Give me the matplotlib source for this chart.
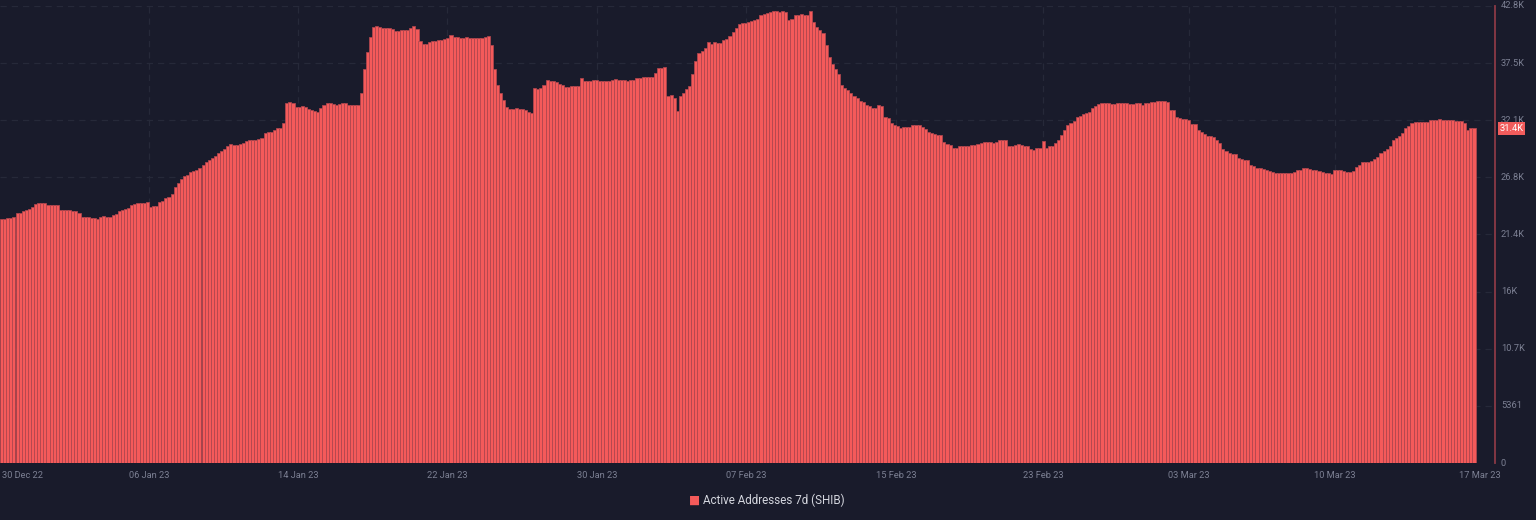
import numpy as np
import matplotlib
matplotlib.use('Agg')
import matplotlib.pyplot as plt

''' data: Active Addresses 7d (SHIB), 4h bars, values in thousands ========== '''
seg1 = [22.9, 22.9, 23.0, 23.0, 23.1, 23.5, 23.5, 23.6, 23.7, 23.8,
        24.0, 24.3, 24.4, 24.4, 24.4, 24.2, 24.2, 24.2, 24.2,
        23.7, 23.7, 23.7, 23.7, 23.6, 23.6, 23.5,
        23.1, 23.1, 23.1, 23.0, 23.0, 22.9, 23.1, 23.2, 23.1, 23.1,
        23.3, 23.4, 23.6, 23.7, 23.8, 23.9, 24.2, 24.3, 24.4, 24.4,
        24.4, 24.5, 24.0, 24.1, 24.1, 24.5, 24.6, 24.9, 25.0, 25.2,
        25.9, 26.3, 26.6, 26.9, 27.0, 27.3, 27.4, 27.5, 27.7,
        28.0, 28.2, 28.4, 28.6, 28.8, 29.1, 29.3, 29.5, 29.7,
        29.9, 29.8, 29.8, 29.9, 30.0, 30.2, 30.3, 30.3, 30.3, 30.4, 30.5,
        31.0, 31.1, 31.1, 31.2, 31.4, 31.4, 31.9, 33.8, 33.9, 33.8,
        33.4, 33.4, 33.5, 33.4, 33.2, 33.1, 33.0, 32.9,
        33.3, 33.6, 33.8, 33.8, 33.7,
        33.6, 33.7, 33.8, 33.8, 33.6, 33.6, 33.6, 33.6, 34.7, 37.0, 38.6]
seg2 = [40.0, 40.9, 41.0, 40.9, 40.8, 40.8, 40.8, 40.7, 40.5, 40.5, 40.6,
        40.6, 40.6, 40.8, 41.0, 40.7, 39.6, 39.3, 39.3,
        39.5, 39.6, 39.6, 39.7, 39.7, 39.8, 39.9, 40.2,
        40.0, 40.0, 39.9, 39.9, 40.0, 39.9, 39.9, 39.9, 39.9, 39.9, 40.0, 40.1,
        39.2, 37.0, 35.5, 34.7, 34.1, 33.4, 33.2,
        33.2, 33.3, 33.2, 33.2, 33.1, 32.9, 32.8, 35.2, 35.1, 35.2, 35.5,
        35.9, 35.8, 35.8, 35.7, 35.6, 35.5, 35.3, 35.3, 35.4, 35.4, 35.4,
        36.1, 35.8, 35.8, 35.8, 35.9, 35.9,
        35.8, 35.8, 35.8, 35.8, 35.9, 36.0, 35.9, 35.9, 35.9, 35.8, 35.9, 35.9,
        36.1, 36.1, 36.2, 36.2, 36.2, 36.2, 36.6, 37.1, 37.1, 37.2,
        34.4, 34.5, 34.2, 33.0, 34.4, 34.7, 35.1, 35.4, 36.5, 37.7,
        38.5, 38.7, 38.9, 39.5, 39.3, 39.5, 39.4, 39.4, 39.7, 39.8,
        40.1, 40.4, 40.8]
seg3 = [41.2, 41.3, 41.3, 41.4, 41.5, 41.6, 41.7, 42.0, 42.1, 42.2, 42.3,
        42.4, 42.4, 42.3, 42.4, 42.3, 41.6, 41.7, 42.0, 42.0, 42.1, 42.0, 42.0,
        42.4, 41.4, 40.9, 40.6, 40.3, 39.2, 38.1, 37.4, 37.0, 36.5, 35.5,
        35.2, 35.0, 34.7, 34.4, 34.2, 34.0, 33.9, 33.6, 33.5, 33.3,
        33.3, 33.6, 33.5, 32.5, 32.4, 31.9, 31.7, 31.6,
        31.4, 31.5, 31.5, 31.5, 31.7, 31.7, 31.7, 31.5,
        31.3, 31.1, 31.0, 30.9, 30.8, 30.8, 30.1, 29.9, 29.8, 29.6, 29.6,
        29.7, 29.7, 29.7, 29.7, 29.8,
        29.8, 29.9, 30.0, 30.1, 30.1, 30.1, 30.0, 30.1, 30.3, 30.3, 30.3,
        29.7, 29.7, 29.8, 29.9, 29.8, 29.7, 29.7, 29.5, 29.4, 29.6, 29.6,
        30.2, 29.6, 29.7, 29.7, 30.0, 30.3, 30.8, 31.2,
        31.7, 31.9, 32.1, 32.5, 32.6, 32.7, 32.8, 32.9, 33.3, 33.5,
        33.7, 33.8, 33.8]
seg4 = [33.8, 33.7, 33.7, 33.8, 33.8, 33.8, 33.8, 33.7, 33.7, 33.8, 33.8,
        33.6, 33.8, 33.8, 33.9, 33.9, 34.0, 34.0, 34.0, 33.9,
        33.1, 33.1, 32.5, 32.4, 32.3, 32.3, 32.2, 31.8, 31.8, 31.2, 31.1,
        30.9, 30.7, 30.7, 30.6, 30.3, 30.0, 29.5, 29.3, 29.1, 29.0, 29.0,
        28.6, 28.5, 28.4, 28.4, 28.0, 27.9, 27.7, 27.7, 27.6,
        27.5, 27.4, 27.3, 27.2, 27.2, 27.2, 27.2, 27.2, 27.2, 27.3,
        27.5, 27.5, 27.7, 27.7, 27.6, 27.5, 27.5, 27.4, 27.3, 27.2, 27.2,
        27.1, 27.5, 27.5, 27.5, 27.4, 27.3, 27.3, 27.4, 27.8, 28.0,
        28.2, 28.2, 28.2, 28.3, 28.5, 28.7, 29.1, 29.3, 29.5, 29.7,
        30.3, 30.5, 30.7, 31.0, 31.4, 31.6, 31.9, 32.0,
        32.0, 32.0, 32.0, 32.0, 32.2, 32.2, 32.2, 32.3, 32.2, 32.2, 32.2, 32.2,
        32.1, 32.1, 32.1, 31.9, 31.2, 31.4, 31.4]
values = np.array(seg1 + seg2 + seg3 + seg4) * 1000

date_labels = ['30 Dec 22', '06 Jan 23', '14 Jan 23', '22 Jan 23', '30 Jan 23',
               '07 Feb 23', '15 Feb 23', '23 Feb 23', '03 Mar 23', '10 Mar 23',
               '17 Mar 23']
date_ticks = [6.6, 47.6, 95.6, 143.7, 192.1, 240.1, 288.5, 336.0, 383.1, 430.1, 476.9]
ytick_vals = [0, 5361, 10722, 16083, 21444, 26805, 32166, 37527, 42888]
ytick_labels = ['0', '5361', '10.7K', '16K', '21.4K', '26.8K', '32.1K', '37.5K', '42.8K']
last_label = '31.4K'
series_name = 'Active Addresses 7d (SHIB)'

''' styling ================================================================= '''
bg = '#191b2b'
bar_col = '#f45a5a'
txt_col = '#7c8093'
grid_col = '#262939'
plt.rcParams['font.family'] = ['Roboto', 'DejaVu Sans']

f = plt.figure(figsize=(15.36, 5.2), dpi=100, facecolor=bg)
p = f.add_axes([0.0, 0.1096, 1495/1536, 0.9887-0.1096], facecolor=bg)

x = np.arange(len(values))
# full-width bars with a darker edge give the striped look of the original
p.bar(x, values, width=1.0, color=bar_col, edgecolor='#b0474f', linewidth=0.55, zorder=2)

p.set_xlim(-0.5, -0.5 + 1495/3.1)
p.set_ylim(0, ytick_vals[-1])

# grid
for v in ytick_vals[1:]:
    p.axhline(v, color=grid_col, lw=0.9, ls=(0, (5, 4)), zorder=1)
for t in date_ticks[1:-1]:
    p.axvline(t, color=grid_col, lw=0.9, ls=(0, (5, 4)), zorder=1)

for s in ['top', 'left', 'bottom']:
    p.spines[s].set_visible(False)
p.spines['right'].set_color('#8a3a46')
p.spines['right'].set_linewidth(1.3)

p.set_xticks([])
p.set_yticks([])

# x tick labels
for t, lab in zip(date_ticks, date_labels):
    p.text(t, -0.018, lab, transform=p.get_xaxis_transform(), ha='center', va='top',
           color=txt_col, fontsize=6.7)

# y tick labels on the right
for v, lab in zip(ytick_vals, ytick_labels):
    p.text(1.004, v, lab, transform=p.get_yaxis_transform(), ha='left', va='center',
           color=txt_col, fontsize=6.7)

# last value marker
p.text(1.003, values[-1], last_label, transform=p.get_yaxis_transform(), ha='left',
       va='center', color='white', fontsize=6.7,
       bbox=dict(boxstyle='square,pad=0.2', fc='#f25c5c', ec='none'))

# legend
f.text(0.4523, 0.038, '\u25a0', color=bar_col, fontsize=8.5, ha='center', va='center')
f.text(0.4575, 0.038, series_name, color='#d4d6de', fontsize=8.4, ha='left', va='center')

f.savefig('out.png', dpi=100, facecolor=bg)
